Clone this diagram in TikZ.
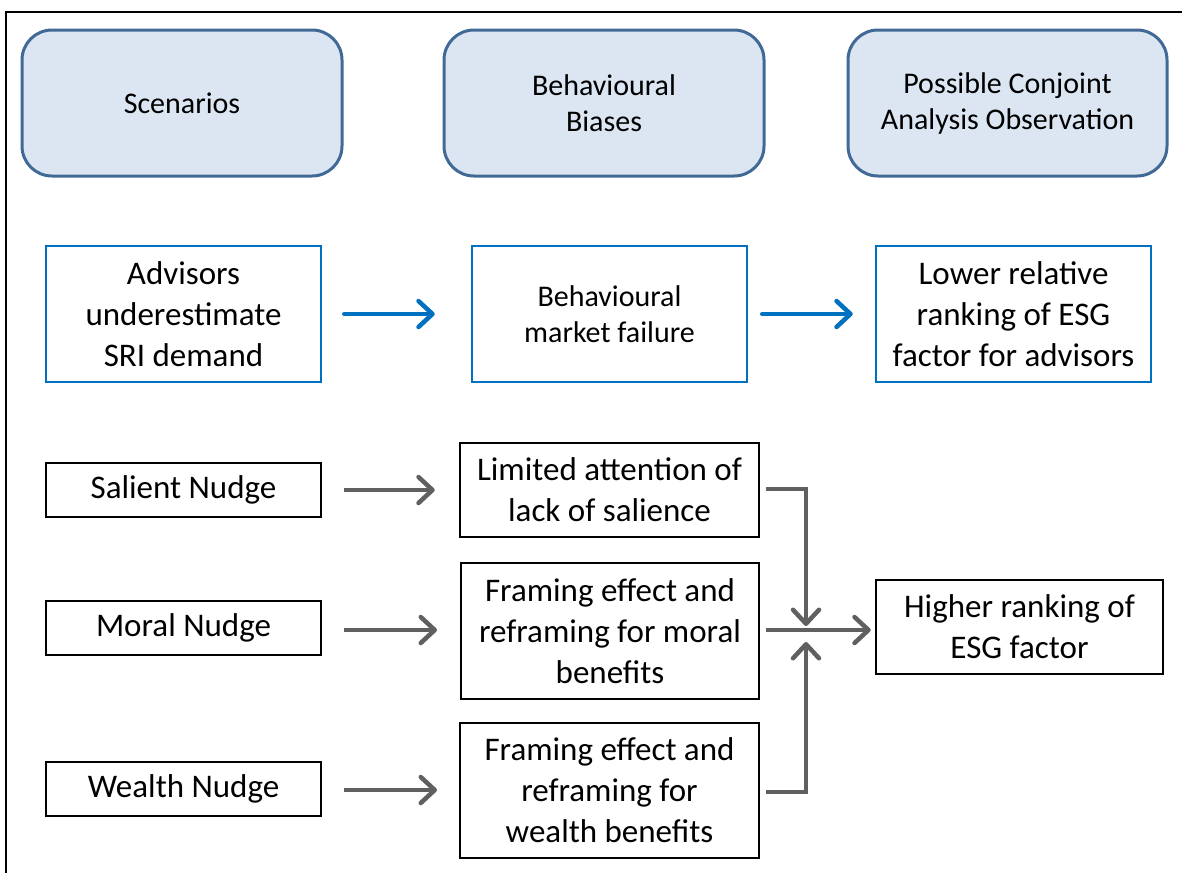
\documentclass[tikz,border=0pt]{standalone}
\usepackage{fontspec}
\setmainfont{Carlito}
\usetikzlibrary{arrows.meta}
\definecolor{hdrfill}{RGB}{220,230,242}
\definecolor{hdrline}{RGB}{65,105,150}
\definecolor{bblue}{RGB}{0,112,192}
\definecolor{agray}{RGB}{96,96,96}
\tikzset{
  hdr/.style={draw=hdrline, line width=3pt, fill=hdrfill, rounded corners=30pt,
    minimum width=320pt, minimum height=146pt, inner sep=0pt, align=center,
    font=\fontsize{30}{36}\selectfont},
  bluebox/.style={draw=bblue, line width=2.5pt, minimum width=275pt, minimum height=136pt,
    inner sep=0pt, align=center, font=\fontsize{33}{41}\selectfont},
  blkbox/.style={draw=black, line width=2.5pt, inner sep=0pt, align=center,
    font=\fontsize{33}{41}\selectfont},
  bluearrow/.style={draw=bblue, line width=4.5pt, line cap=round, line join=round,
    -{Straight Barb[length=14pt,width=26pt,line cap=round,line join=round]}},
  grayarrow/.style={draw=agray, line width=4.5pt, line join=miter,
    -{Straight Barb[length=14pt,width=26pt,line cap=round,line join=round]}},
}
\begin{document}
\begin{tikzpicture}[x=1pt,y=-1pt]
\useasboundingbox (0,0) rectangle (1182,873);
\draw[line width=2pt] (6,873) -- (6,12) -- (1182,12);

% headers
\node[hdr] (scen) at (182,103) {Scenarios};
\node[hdr] (bias) at (604,103) {Behavioural\\Biases};
\node[hdr, minimum width=319pt] (conj) at (1007.5,103) {Possible Conjoint\\Analysis Observation};

% blue row
\node[bluebox] (adv) at (183.5,314) {Advisors\\underestimate\\SRI demand};
\node[bluebox, font=\fontsize{30}{36}\selectfont] (fail) at (609.5,314) {Behavioural\\market failure};
\node[bluebox] (lower) at (1013.5,314) {Lower relative\\ranking of ESG\\factor for advisors};

\draw[bluearrow] ([xshift=22pt]adv.east) -- ([xshift=-36pt]fail.west);
\draw[bluearrow] ([xshift=14pt]fail.east) -- ([xshift=-22pt]lower.west);

% nudges
\node[blkbox, minimum width=275pt, minimum height=54pt] (sal) at (183.5,490) {Salient Nudge};
\node[blkbox, minimum width=275pt, minimum height=54pt] (mor) at (183.5,628) {Moral Nudge};
\node[blkbox, minimum width=275pt, minimum height=54pt] (wea) at (183.5,789) {Wealth Nudge};

\node[blkbox, minimum width=299pt, minimum height=94pt] (lim) at (609.5,490) {Limited attention of\\lack of salience};
\node[blkbox, minimum width=298pt, minimum height=136pt] (fmor) at (610,631) {Framing effect and\\reframing for moral\\benefits};
\node[blkbox, minimum width=299pt, minimum height=135pt] (fwea) at (609.5,790.5) {Framing effect and\\reframing for\\wealth benefits};

\node[blkbox, minimum width=287pt, minimum height=94pt] (high) at (1019.5,627) {Higher ranking of\\ESG factor};

\draw[grayarrow] ([xshift=22pt]sal.east) -- ([xshift=-24pt]sal.east -| lim.west);
\draw[grayarrow] ([xshift=22pt]mor.east |- 0,630) -- (437,630);
\draw[grayarrow] ([xshift=22pt]wea.east |- 0,790) -- (437,790);

\coordinate (jtop) at (806,626);
\coordinate (jbot) at (806,642);
\draw[grayarrow] ([xshift=6pt]lim.east |- 0,489) -| (jtop);
\draw[grayarrow] ([xshift=6pt]fmor.east |- 0,630) -- ([xshift=-4pt]high.west |- 0,630);
\draw[grayarrow] ([xshift=6pt]fwea.east |- 0,792) -| (jbot);
\end{tikzpicture}
\end{document}
